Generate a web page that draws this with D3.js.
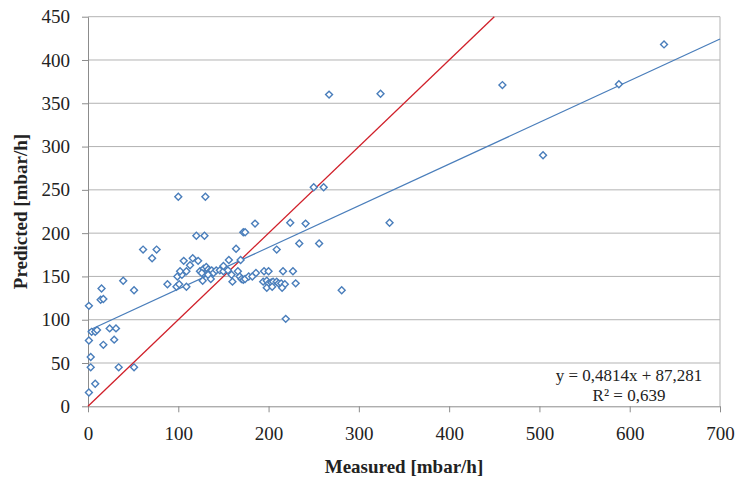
<!DOCTYPE html>
<html><head><meta charset="utf-8">
<script src="https://cdn.jsdelivr.net/npm/d3@7"></script>
<style>body{margin:0;background:#fff}svg{display:block}</style>
</head><body>
<svg id="c" width="739" height="482"></svg>
<script>
const measured = [1,8,3,34,51,3,17,1,29,4,8,10,24,31,1,14,17,15,39,51,61,71,76,
 88,98,101,109,99,104,102,109,100,130,120,129,106,113,116,122,
 124,128,131,133,135,137,139,142,146,150,155,128,133,126,127,136,
 150,156,169,159,160,168,170,172,174,178,182,186,164,172,174,185,166,
 194,198,200,203,205,209,211,198,204,214,218,215,230,195,200,216,227,
 209,219,224,241,234,256,250,261,267,324,334,281,459,504,588,638];
const predicted = [16,26,45,45,45,57,71,76,77,86,86,88,90,90,116,123,124,136,145,134,181,171,181,
 141,138,141,138,150,152,156,156,242,242,197,197,168,163,171,168,
 156,159,161,158,156,157,154,157,157,156,157,153,152,154,145,147,
 162,169,169,152,144,150,147,146,147,150,150,154,182,201,201,211,156,
 144,145,142,143,144,144,142,137,138,142,141,137,142,156,156,156,156,
 181,101,212,211,188,188,253,253,360,361,212,134,371,290,372,418];
const xTicks = [0,100,200,300,400,500,600,700];
const yTicks = [0,50,100,150,200,250,300,350,400,450];
const trendSlope = 0.4814, trendIntercept = 87.281;
const eqText = "y = 0,4814x + 87,281";
const r2Text = "R² = 0,639";
const xTitle = "Measured [mbar/h]";
const yTitle = "Predicted [mbar/h]";

const L=88,R=720,T=16.7,B=406.3;
const x=d3.scaleLinear().domain([0,700]).range([L,R]);
const y=d3.scaleLinear().domain([0,450]).range([B,T]);
const svg=d3.select("#c");
const font="'Liberation Serif','Times New Roman',serif";
const grid="#b3b3b3", axc="#8c8c8c";

// gridlines
svg.append("g").selectAll("line").data(yTicks.slice(1)).join("line")
 .attr("x1",L).attr("x2",R).attr("y1",d=>y(d)).attr("y2",d=>y(d))
 .attr("stroke",grid).attr("stroke-width",1);
// right border
svg.append("line").attr("x1",R).attr("x2",R).attr("y1",T).attr("y2",B).attr("stroke",grid);

const xAxis=svg.append("g").attr("transform",`translate(0,${B})`)
 .call(d3.axisBottom(x).tickValues(xTicks).tickSize(6).tickPadding(14).tickSizeOuter(0));
const yAxis=svg.append("g").attr("transform",`translate(${L},0)`)
 .call(d3.axisLeft(y).tickValues(yTicks).tickSize(6).tickPadding(12).tickSizeOuter(0));
[xAxis,yAxis].forEach(g=>{
 g.selectAll("path,line").attr("stroke",axc);
 g.selectAll("text").attr("font-family",font).attr("font-size",19).attr("fill","#222");
});

const data=measured.map((m,i)=>({m,p:predicted[i]}));
// y=x line
svg.append("line").attr("x1",x(0)).attr("y1",y(0)).attr("x2",x(450)).attr("y2",y(450))
 .attr("stroke","#d0202a").attr("stroke-width",1.3);
// trendline
svg.append("line").attr("x1",x(0)).attr("y1",y(trendIntercept))
 .attr("x2",x(700)).attr("y2",y(trendIntercept+trendSlope*700))
 .attr("stroke","#4a7ebb").attr("stroke-width",1.3);

const sym=d3.symbol().type(d3.symbolSquare).size(24);
svg.append("g").selectAll("path").data(data).join("path")
 .attr("d",sym).attr("transform",d=>`translate(${x(d.m)},${y(d.p)}) rotate(45)`)
 .attr("fill","#fff").attr("stroke","#4a7ebb").attr("stroke-width",1.4);

svg.append("text").attr("x",629).attr("y",381).attr("text-anchor","middle")
 .attr("font-family",font).attr("font-size",17).attr("fill","#222").text(eqText);
svg.append("text").attr("x",629).attr("y",401).attr("text-anchor","middle")
 .attr("font-family",font).attr("font-size",17).attr("fill","#222").text(r2Text);

svg.append("text").attr("x",404).attr("y",473).attr("text-anchor","middle")
 .attr("font-family",font).attr("font-size",19).attr("font-weight","bold").attr("fill","#222").text(xTitle);
svg.append("text").attr("transform",`translate(27,${(T+B)/2}) rotate(-90)`).attr("text-anchor","middle")
 .attr("font-family",font).attr("font-size",19).attr("font-weight","bold").attr("fill","#222").text(yTitle);
</script>
</body></html>
